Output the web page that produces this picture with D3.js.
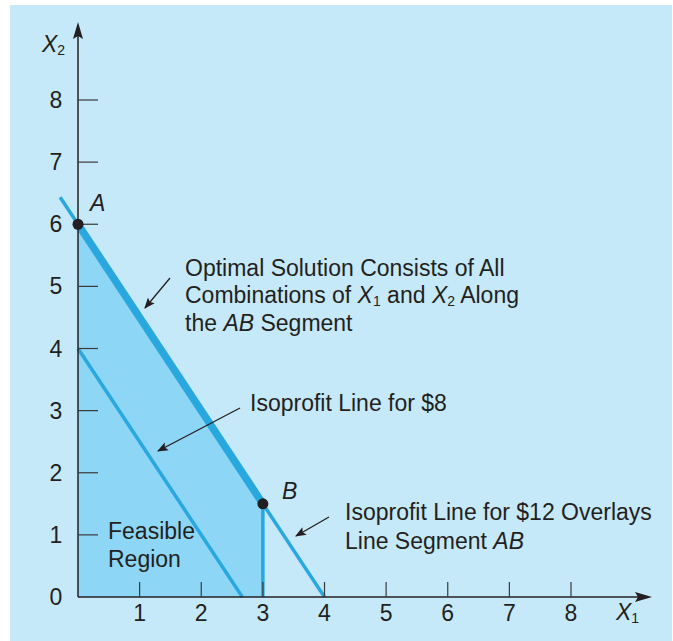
<!DOCTYPE html>
<html>
<head>
<meta charset="utf-8">
<script src="https://cdn.jsdelivr.net/npm/d3@7"></script>
<style>
  body { margin: 0; background: #fff; }
  text { font-family: "Liberation Sans", Arial, sans-serif; fill: #231f20; }
</style>
</head>
<body>
<svg width="673" height="641"></svg>
<script>
// chart data
var xTicks = [1, 2, 3, 4, 5, 6, 7, 8];
var yTicks = [0, 1, 2, 3, 4, 5, 6, 7, 8];
var feasible = [[0, 0], [0, 6], [3, 1.5], [3, 0]];
var iso12 = [[-0.29, 6.435], [4, 0]];
var iso8 = [[0, 4], [2.667, 0]];
var segAB = [[0, 6], [3, 1.5]];
var sideB = [[3, 0], [3, 1.5]];
var corners = [{ name: "A", x: 0, y: 6 }, { name: "B", x: 3, y: 1.5 }];

var svg = d3.select("svg");
var fs = 23;

var x = d3.scaleLinear().domain([0, 8]).range([78, 571]);
var y = d3.scaleLinear().domain([0, 8]).range([597, 100]);

var line = d3.line().x(d => x(d[0])).y(d => y(d[1]));

// panel
svg.append("rect")
    .attr("x", 10).attr("y", 5)
    .attr("width", 662).attr("height", 636)
    .attr("fill", "#c6e9f9");

svg.append("path")
    .attr("d", line(feasible) + "Z")
    .attr("fill", "#8ed6f6");

// lines
var blue = "#29a8e0";
svg.append("path").attr("d", line(iso8))
    .attr("stroke", blue).attr("stroke-width", 3.5).attr("fill", "none");
svg.append("path").attr("d", line(iso12))
    .attr("stroke", blue).attr("stroke-width", 3.5).attr("fill", "none");
svg.append("path").attr("d", line(segAB))
    .attr("stroke", blue).attr("stroke-width", 7.5).attr("fill", "none");
svg.append("path").attr("d", line(sideB))
    .attr("stroke", blue).attr("stroke-width", 3.5).attr("fill", "none");

// axes
var axisColor = "#231f20";
svg.append("line")
    .attr("x1", x(0)).attr("y1", y(0)).attr("x2", 642).attr("y2", y(0))
    .attr("stroke", axisColor).attr("stroke-width", 1.5);
svg.append("path")
    .attr("d", "M652," + y(0) + "L635," + (y(0) - 5) + "L638," + y(0) + "L635," + (y(0) + 5) + "Z")
    .attr("fill", axisColor);
svg.append("line")
    .attr("x1", x(0)).attr("y1", y(0)).attr("x2", x(0)).attr("y2", 32)
    .attr("stroke", axisColor).attr("stroke-width", 1.5);
svg.append("path")
    .attr("d", "M" + x(0) + ",22L" + (x(0) - 5) + ",39L" + x(0) + ",36L" + (x(0) + 5) + ",39Z")
    .attr("fill", axisColor);

svg.selectAll(".xtick").data(xTicks).enter().append("line")
    .attr("x1", d => x(d)).attr("x2", d => x(d))
    .attr("y1", y(0)).attr("y2", y(0) - 15)
    .attr("stroke", "#3a3a3a").attr("stroke-width", 1.2);
svg.selectAll(".xlab").data(xTicks).enter().append("text")
    .attr("x", d => x(d)).attr("y", 621)
    .attr("text-anchor", "middle").attr("font-size", fs)
    .text(d => d);

svg.selectAll(".ytick").data(yTicks.slice(1)).enter().append("line")
    .attr("x1", x(0)).attr("x2", x(0) + 20)
    .attr("y1", d => y(d)).attr("y2", d => y(d))
    .attr("stroke", "#3a3a3a").attr("stroke-width", 1.2);
svg.selectAll(".ylab").data(yTicks).enter().append("text")
    .attr("x", 56).attr("y", d => y(d) + 8)
    .attr("text-anchor", "middle").attr("font-size", fs)
    .text(d => d);

// axis names
var x2 = svg.append("text").attr("x", 42).attr("y", 52).attr("font-size", fs);
x2.append("tspan").attr("font-style", "italic").text("X");
x2.append("tspan").attr("font-size", 14).attr("dy", 3).text("2");
var x1 = svg.append("text").attr("x", 616).attr("y", 620).attr("font-size", fs);
x1.append("tspan").attr("font-style", "italic").text("X");
x1.append("tspan").attr("font-size", 14).attr("dy", 3).text("1");

// corner points
var labelOffset = { A: [12, -13], B: [19, -5] };
svg.selectAll(".pt").data(corners).enter().append("circle")
    .attr("cx", d => x(d.x)).attr("cy", d => y(d.y)).attr("r", 5.5)
    .attr("fill", "#231f20");
svg.selectAll(".ptlab").data(corners).enter().append("text")
    .attr("x", d => x(d.x) + labelOffset[d.name][0])
    .attr("y", d => y(d.y) + labelOffset[d.name][1])
    .attr("font-size", fs).attr("font-style", "italic")
    .text(d => d.name);

// annotations
svg.append("defs").append("marker")
    .attr("id", "ah").attr("viewBox", "0 0 10 10")
    .attr("refX", 9).attr("refY", 5)
    .attr("markerWidth", 11).attr("markerHeight", 11)
    .attr("markerUnits", "userSpaceOnUse")
    .attr("orient", "auto")
    .append("path").attr("d", "M0,1L10,5L0,9L2,5Z").attr("fill", axisColor);

var arrows = [
  [170, 278, 145, 308],
  [240, 408, 158, 451],
  [329, 517, 296, 536]
];
svg.selectAll(".arr").data(arrows).enter().append("line")
    .attr("x1", d => d[0]).attr("y1", d => d[1])
    .attr("x2", d => d[2]).attr("y2", d => d[3])
    .attr("stroke", axisColor).attr("stroke-width", 1.3)
    .attr("marker-end", "url(#ah)");

function label(xp, yp, parts) {
  var t = svg.append("text").attr("x", xp).attr("y", yp).attr("font-size", fs);
  parts.forEach(p => {
    var s = t.append("tspan").text(p.t);
    if (p.i) s.attr("font-style", "italic");
    if (p.sub) s.attr("font-size", 14).attr("dy", 3);
    if (p.up) s.attr("dy", -3);
  });
}

label(185, 276, [{ t: "Optimal Solution Consists of All" }]);
label(185, 303, [{ t: "Combinations of " }, { t: "X", i: 1 }, { t: "1", sub: 1 }, { t: " and ", up: 1 },
                 { t: "X", i: 1 }, { t: "2", sub: 1 }, { t: "  Along", up: 1 }]);
label(185, 331, [{ t: "the " }, { t: "AB", i: 1 }, { t: " Segment" }]);
label(250, 411, [{ t: "Isoprofit Line for $8" }]);
label(345, 520, [{ t: "Isoprofit Line for $12 Overlays" }]);
label(345, 549, [{ t: "Line Segment " }, { t: "AB", i: 1 }]);
label(108, 539, [{ t: "Feasible" }]);
label(108, 567, [{ t: "Region" }]);
</script>
</body>
</html>
